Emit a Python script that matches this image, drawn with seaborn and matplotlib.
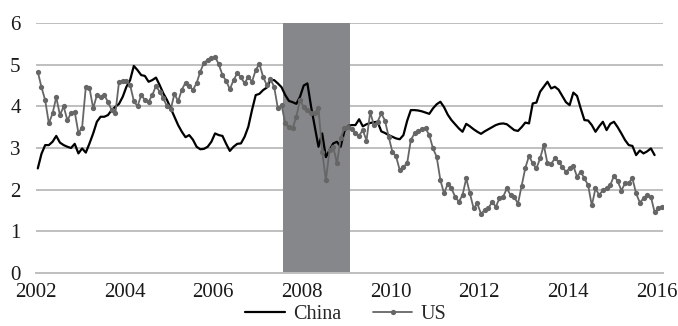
import numpy as np
import pandas as pd
import matplotlib
matplotlib.use("Agg")
import matplotlib.pyplot as plt
import seaborn as sns

# ---- data (monthly, starting Jan 2002) ----
china = [2.51, 2.86, 3.07, 3.07, 3.15, 3.29, 3.13, 3.07, 3.03, 3.00,
         3.10, 2.87, 2.99, 2.89, 3.11, 3.35, 3.63, 3.75, 3.75, 3.79,
         3.91, 3.99, 4.06, 4.23, 4.47, 4.63, 4.97, 4.87, 4.75, 4.73,
         4.59, 4.63, 4.69, 4.51, 4.31, 4.15, 3.95, 3.75, 3.55, 3.39,
         3.26, 3.31, 3.20, 3.03, 2.97, 2.98, 3.03, 3.15, 3.35, 3.31,
         3.29, 3.10, 2.93, 3.03, 3.10, 3.11, 3.27, 3.51, 3.91, 4.27,
         4.30, 4.39, 4.45, 4.63, 4.63, 4.55, 4.46, 4.27, 4.13, 4.10,
         4.06, 4.23, 4.50, 4.55, 3.99, 3.51, 3.03, 3.35, 2.78, 2.95,
         3.11, 3.15, 3.03, 3.40, 3.53, 3.55, 3.55, 3.69, 3.52, 3.57,
         3.60, 3.62, 3.63, 3.40, 3.36, 3.31, 3.27, 3.23, 3.21, 3.31,
         3.65, 3.91, 3.91, 3.90, 3.88, 3.85, 3.82, 3.95, 4.05, 4.11,
         3.98, 3.80, 3.67, 3.57, 3.47, 3.39, 3.58, 3.52, 3.45, 3.39,
         3.34, 3.40, 3.45, 3.50, 3.55, 3.58, 3.59, 3.57, 3.50, 3.43,
         3.41, 3.50, 3.61, 3.59, 4.07, 4.09, 4.35, 4.47, 4.59, 4.43,
         4.47, 4.40, 4.25, 4.10, 4.03, 4.33, 4.25, 3.95, 3.67, 3.66,
         3.55, 3.39, 3.52, 3.63, 3.43, 3.58, 3.63, 3.50, 3.35, 3.19,
         3.07, 3.05, 2.83, 2.94, 2.87, 2.92, 2.99, 2.83]

us = [4.83, 4.46, 4.15, 3.59, 3.83, 4.22, 3.79, 4.00, 3.67, 3.83,
      3.87, 3.36, 3.49, 4.46, 4.44, 3.95, 4.27, 4.22, 4.27, 4.11,
      3.91, 3.83, 4.59, 4.62, 4.61, 4.51, 4.13, 4.00, 4.27, 4.15,
      4.11, 4.27, 4.49, 4.35, 4.19, 4.00, 3.93, 4.30, 4.12, 4.40,
      4.57, 4.50, 4.39, 4.56, 4.83, 5.05, 5.11, 5.15, 5.19, 5.01,
      4.75, 4.61, 4.41, 4.63, 4.79, 4.70, 4.55, 4.71, 4.59, 4.87,
      5.02, 4.71, 4.51, 4.65, 4.47, 3.95, 4.03, 3.59, 3.50, 3.47,
      3.75, 4.15, 3.98, 3.91, 3.85, 3.83, 3.95, 2.91, 2.23, 2.95,
      3.03, 2.63, 3.23, 3.47, 3.51, 3.45, 3.36, 3.30, 3.43, 3.18,
      3.86, 3.55, 3.63, 3.83, 3.66, 3.27, 2.91, 2.80, 2.47, 2.55,
      2.63, 3.19, 3.35, 3.41, 3.45, 3.47, 3.31, 2.99, 2.79, 2.23,
      1.91, 2.14, 2.03, 1.83, 1.71, 1.87, 2.27, 1.91, 1.55, 1.67,
      1.42, 1.51, 1.55, 1.71, 1.59, 1.79, 1.83, 2.03, 1.87, 1.83,
      1.66, 2.09, 2.52, 2.81, 2.63, 2.51, 2.75, 3.07, 2.63, 2.62,
      2.75, 2.67, 2.55, 2.43, 2.51, 2.57, 2.31, 2.43, 2.27, 2.11,
      1.62, 2.03, 1.87, 1.99, 2.03, 2.11, 2.33, 2.21, 1.98, 2.15,
      2.17, 2.27, 1.91, 1.69, 1.79, 1.87, 1.83, 1.46, 1.55, 1.59]

start_month = "2002-01"
shade_start = "2007-08"
shade_end = "2009-02"
x_ticks = [2002, 2004, 2006, 2008, 2010, 2012, 2014, 2016]
y_ticks = [0, 1, 2, 3, 4, 5, 6]


def decimal_years(start, n):
    per = pd.period_range(start, periods=n, freq="M")
    return per.year + (per.month - 0.5) / 12.0


def month_start(p):
    per = pd.Period(p, freq="M")
    return per.year + (per.month - 1) / 12.0


df_china = pd.DataFrame({"t": decimal_years(start_month, len(china)), "v": china})
df_us = pd.DataFrame({"t": decimal_years(start_month, len(us)), "v": us})

sns.set_style("white")
plt.rcParams["font.family"] = ["Liberation Serif", "DejaVu Serif"]

fig = plt.figure(figsize=(6.78, 3.26), dpi=100)
ax = fig.add_axes([0.053, 0.1626, 0.925, 0.7668])

ax.set_ylim(0, 6)
ax.set_xlim(2002, 2016.15)
ax.set_yticks(y_ticks)
ax.yaxis.grid(True, color="#bfbfbf", linewidth=1.4)
ax.xaxis.grid(False)
ax.set_axisbelow(True)

# recession shading
ax.axvspan(month_start(shade_start), month_start(shade_end),
           color="#85878a", zorder=1.5, linewidth=0)

sns.lineplot(data=df_china, x="t", y="v", ax=ax, color="black",
             linewidth=1.6, label="China", zorder=3)
sns.lineplot(data=df_us, x="t", y="v", ax=ax, color="#666666",
             linewidth=1.3, marker="o", markersize=3.8,
             markeredgewidth=0, label="US", zorder=4)

for s in ["top", "right", "left"]:
    ax.spines[s].set_visible(False)
ax.spines["bottom"].set_color("#bfbfbf")
ax.spines["bottom"].set_linewidth(1.4)

ax.set_xticks(x_ticks)
ax.set_xticklabels([str(v) for v in x_ticks])
ax.tick_params(axis="x", length=5.5, width=1.2, color="#bfbfbf",
               labelsize=15, pad=1.5, labelcolor="#1a1a1a")
ax.tick_params(axis="y", length=0, labelsize=15, pad=11,
               labelcolor="#1a1a1a")
ax.set_xlabel("")
ax.set_ylabel("")

ax.legend_.remove()
handles, labels = ax.get_legend_handles_labels()
fig.legend(handles, labels, loc="center", bbox_to_anchor=(0.51, 0.035),
           ncol=2, frameon=False, fontsize=14.5, handlelength=1.95,
           handletextpad=0.4, columnspacing=1.6, borderpad=0.0)

fig.savefig("out.png", dpi=100)
